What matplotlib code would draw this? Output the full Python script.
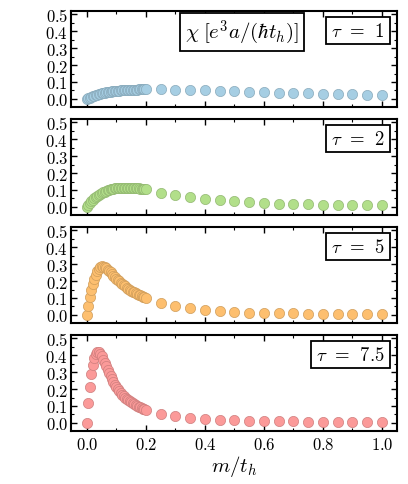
import matplotlib
matplotlib.use("Agg")
import matplotlib.pyplot as plt
import matplotlib.colors as mcolors
import numpy as np
from matplotlib.ticker import MultipleLocator, FuncFormatter

plt.rcParams['mathtext.fontset'] = 'cm'
plt.rcParams['font.family'] = 'serif'
plt.rcParams['font.serif'] = ['DejaVu Serif']

# m/t_h grid: fine steps up to 0.2, coarse after
m_fine = [round(0.005 * i, 3) for i in range(41)]
m_coarse = [0.25, 0.3, 0.35, 0.4, 0.45, 0.5, 0.55, 0.6, 0.65, 0.7, 0.75, 0.8, 0.85, 0.9, 0.95, 1.0]
m_vals = m_fine + m_coarse

taus = ['1', '2', '5', '7.5']

chi_tau1 = [0, .004, .008, .012, .016, .019, .022, .025, .028, .030, .033, .035, .037, .038,
            .040, .041, .043, .044, .045, .046, .047, .048, .049, .050, .050, .051, .052, .052,
            .053, .053, .054, .054, .055, .055, .055, .056, .056, .056, .056, .057, .057,
            .057, .055, .053, .050, .047, .044, .041, .039, .036, .034, .032, .030, .028,
            .026, .025, .023]

chi_tau2 = [0, .012, .023, .033, .042, .051, .059, .066, .072, .078, .083, .087, .091, .095,
            .098, .101, .103, .105, .107, .109, .110, .111, .112, .113, .113, .114, .114, .114,
            .114, .113, .113, .112, .112, .111, .110, .109, .108, .107, .106, .105, .104,
            .085, .070, .058, .048, .040, .033, .028, .024, .020, .017, .015, .013, .012,
            .011, .010, .009]

chi_tau5 = [0, .055, .105, .145, .180, .210, .237, .258, .273, .283, .287, .286, .282, .276,
            .268, .260, .251, .242, .233, .224, .215, .206, .198, .190, .182, .175, .168, .161,
            .155, .149, .143, .138, .133, .128, .123, .119, .115, .111, .107, .104, .101,
            .070, .053, .040, .030, .024, .018, .014, .012, .010, .009, .008, .007, .006,
            .006, .005, .005]

chi_tau75 = [0, .120, .215, .290, .345, .385, .410, .420, .420, .410, .395, .375, .355, .335,
             .315, .295, .275, .258, .242, .227, .213, .200, .188, .177, .167, .158, .149, .141,
             .134, .127, .121, .115, .110, .105, .100, .096, .092, .088, .085, .082, .079,
             .055, .040, .030, .024, .019, .016, .013, .011, .010, .009, .008, .007, .006,
             .006, .005, .005]

series = [chi_tau1, chi_tau2, chi_tau5, chi_tau75]
colors = ['#a6cee3', '#b2df8a', '#fdbf6f', '#fb9a99']

W, H = 408, 485
fig = plt.figure(figsize=(W / 100, H / 100), dpi=100)

mathfmt = FuncFormatter(lambda v, p: r'$%.1f$' % v)
tops = [12, 120, 228, 336]
ph = 96
box = dict(boxstyle='square,pad=0.25', fc='white', ec='black', lw=1.3)

for i in range(4):
    ax = fig.add_axes([71 / W, 1 - (tops[i] + ph) / H, 326 / W, ph / H])
    edge = np.array(mcolors.to_rgb(colors[i])) * 0.82
    ax.scatter(m_vals, series[i], s=54, color=colors[i], edgecolor=edge,
               linewidth=0.5, zorder=3)
    ax.set_xlim(-0.054, 1.051)
    ax.set_ylim(-0.048, 0.52)
    ax.xaxis.set_major_locator(MultipleLocator(0.2))
    ax.xaxis.set_minor_locator(MultipleLocator(0.1))
    ax.yaxis.set_major_locator(MultipleLocator(0.1))
    ax.yaxis.set_minor_locator(MultipleLocator(0.05))
    ax.tick_params(which='both', direction='in', top=True, right=True, labelsize=12)
    ax.tick_params(which='major', length=4, width=1)
    ax.tick_params(which='minor', length=2.5, width=0.8)
    ax.tick_params(axis='y', pad=2)
    for sp in ax.spines.values():
        sp.set_linewidth(1.5)
    ax.yaxis.set_major_formatter(mathfmt)
    if i < 3:
        ax.set_xticklabels([])
    else:
        ax.xaxis.set_major_formatter(mathfmt)
        ax.set_xlabel(r'$m/t_h$', fontsize=15, labelpad=0)
    ax.text(0.963, 0.795, r'$\tau\;\,=\;\,%s$' % taus[i], transform=ax.transAxes,
            ha='right', va='center', fontsize=13.5, bbox=box)
    if i == 0:
        ax.text(0.700, 0.78, r'$\chi\;[e^3a/(\hbar t_h)]$', transform=ax.transAxes,
                ha='right', va='center', fontsize=15, bbox=box)

fig.savefig('out.png', dpi=100)
